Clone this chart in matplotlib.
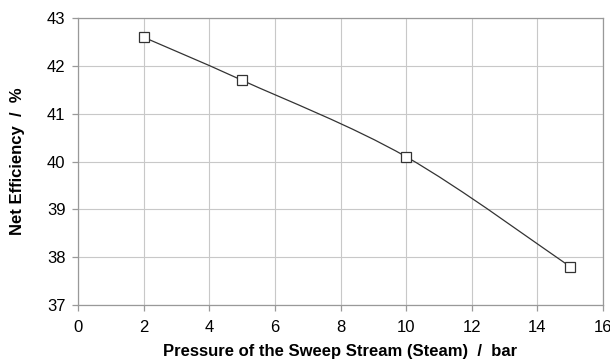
import matplotlib
matplotlib.use("Agg")
import matplotlib.pyplot as plt
from matplotlib.path import Path
from matplotlib.patches import PathPatch

plt.rcParams["font.family"] = ["Liberation Sans", "DejaVu Sans"]

pressure = [2, 5, 10, 15]
efficiency = [42.6, 41.7, 40.1, 37.8]

fig = plt.figure(figsize=(6.1, 3.63), dpi=100)
ax = fig.add_axes([0.128, 0.160, 0.8605, 0.790])

# Excel-style smoothed line: cubic Bezier segments (Catmull-Rom, tension 1/6)
verts = [(pressure[0], efficiency[0])]
codes = [Path.MOVETO]
n = len(pressure)
for i in range(n - 1):
    x0, y0 = pressure[max(i - 1, 0)], efficiency[max(i - 1, 0)]
    x1, y1 = pressure[i], efficiency[i]
    x2, y2 = pressure[i + 1], efficiency[i + 1]
    x3, y3 = pressure[min(i + 2, n - 1)], efficiency[min(i + 2, n - 1)]
    verts += [(x1 + (x2 - x0) / 6, y1 + (y2 - y0) / 6),
              (x2 - (x3 - x1) / 6, y2 - (y3 - y1) / 6),
              (x2, y2)]
    codes += [Path.CURVE4] * 3
ax.add_patch(PathPatch(Path(verts, codes), fill=False, edgecolor="#333333", lw=0.9, zorder=3))

ax.plot(pressure, efficiency, linestyle="none", marker="s", markersize=7,
        markerfacecolor="white", markeredgecolor="#333333", markeredgewidth=0.9, zorder=4)

ax.set_xlim(0, 16)
ax.set_ylim(37, 43)
ax.set_xticks(range(0, 17, 2))
ax.set_yticks(range(37, 44))
ax.grid(True, color="#c8c8c8", linewidth=0.8)
ax.set_axisbelow(True)
for s in ax.spines.values():
    s.set_color("#999999")
    s.set_linewidth(0.9)
ax.tick_params(colors="#999999", labelcolor="black", labelsize=12, length=4, width=0.9)
ax.tick_params(axis="x", pad=7)
ax.tick_params(axis="y", pad=5)

ax.set_xlabel("Pressure of the Sweep Stream (Steam)  /  bar", fontsize=12, fontweight="bold", labelpad=6)
ax.set_ylabel("Net Efficiency  /  %", fontsize=12, fontweight="bold", labelpad=16)

fig.savefig("out.png", dpi=100)
